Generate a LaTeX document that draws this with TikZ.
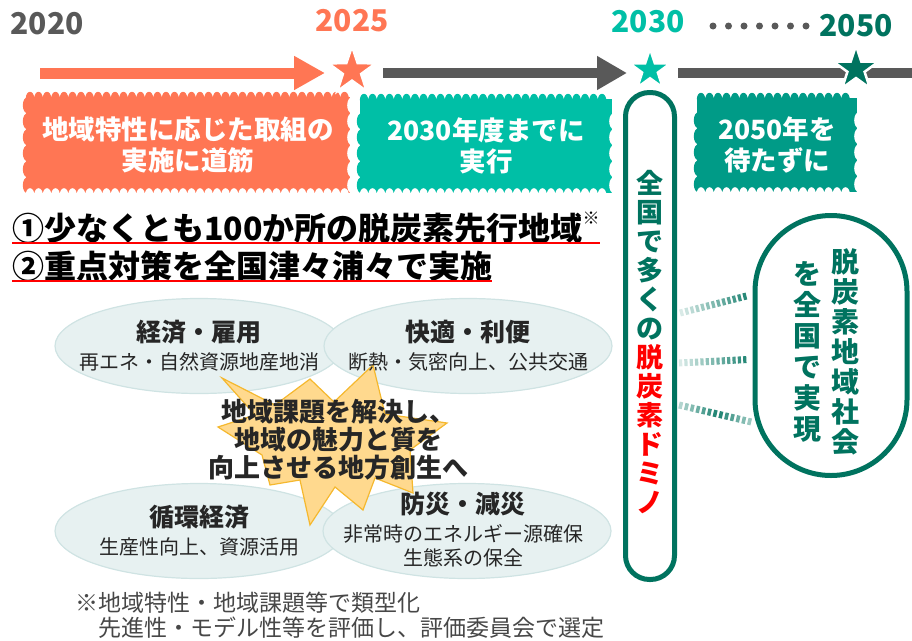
\documentclass[tikz,border=0pt]{standalone}
\usepackage{fontspec}
\setmainfont{Noto Sans CJK JP}
\usepackage{tikz}
\usetikzlibrary{shapes.geometric,arrows.meta,calc,backgrounds,decorations.pathmorphing}
\definecolor{orangeC}{HTML}{FF7654}
\definecolor{tealC}{HTML}{00BFA6}
\definecolor{midteal}{HTML}{009B87}
\definecolor{darkteal}{HTML}{00735F}
\definecolor{grayC}{HTML}{595959}
\definecolor{domred}{HTML}{FF0000}
\definecolor{ellfill}{HTML}{E7F1F1}
\definecolor{elldraw}{HTML}{CFE3E3}
\definecolor{burstfill}{HTML}{FFD98E}
\definecolor{burstdraw}{HTML}{F5B82E}
\definecolor{txtC}{HTML}{262626}
\tikzset{%
    year/.style={font=\fontsize{30}{30}\selectfont\bfseries, inner sep=0pt},
    milestone/.style={star, star points=5, star point ratio=2.6, inner sep=0pt, minimum size=#1, draw=white, line width=2.5pt},
    boxtxt/.style={text=white, align=center, inner sep=0pt, font=\fontsize{26.5}{31}\selectfont\bfseries},
    theme/.style={ellipse, fill=ellfill, draw=elldraw, line width=1.2pt, minimum width=288pt, minimum height=95pt, inner sep=0pt},
    themetxt/.style={align=center, text=txtC, inner sep=0pt, font=\fontsize{20}{24}\selectfont},
    headline/.style={anchor=base west, inner sep=0pt, font=\fontsize{32}{32}\selectfont\bfseries},
    redline/.style={domred, line width=2pt},
    vtext/.style={align=center, inner sep=0pt, text=darkteal},
    scallop/.style={decoration={bumps,segment length=17pt,amplitude=6.5pt}},
    wave/.style={decoration={bumps,segment length=32pt,amplitude=4.5pt}}
}
\newcommand{\thmtitle}[1]{{\fontsize{25}{30}\selectfont\bfseries #1}}
\newcommand{\wavefill}[2]{%
    \begin{pgfonlayer}{background}
    \fill[#2] (#1.north west) rectangle (#1.south east);
    \fill[#2] decorate[scallop] {($(#1.north west)+(0,1.5)$) -- ($(#1.north east)+(0,1.5)$)};
    \fill[#2] decorate[wave] {($(#1.south west)+(1.5,0)$) -- ($(#1.north west)+(1.5,0)$)};
    \fill[white] decorate[scallop] {($(#1.south west)+(0,1.5)$) -- ($(#1.south east)+(0,1.5)$)};
    \fill[white] decorate[wave] {($(#1.south east)+(1.5,0)$) -- ($(#1.north east)+(1.5,0)$)};
    \end{pgfonlayer}}

\begin{document}
\begin{tikzpicture}[x=1pt,y=-1pt]
    \useasboundingbox (0,0) rectangle (912,640);

    % years
    \node[year, text=grayC] (y20) at (47,24) {2020};
    \node[year, text=orangeC] (y25) at (352,21) {2025};
    \node[year, text=tealC] (y30) at (648,22) {2030};
    \node[year, text=darkteal] (y50) at (856,26) {2050};
    \foreach \i in {0,...,6}
        \fill[grayC] (713+15.5*\i,26) circle (3.5);

    % time line
    \coordinate (a20) at (40,73);
    \coordinate (tail) at (912,73);
    \node[milestone=50pt, fill=orangeC] (st25) at (352,71) {};
    \node[milestone=43pt, fill=tealC] (st30) at (650,70) {};
    \draw[orangeC, line width=11pt, -{Triangle[length=31pt,width=32pt]}, shorten >=27pt] (a20) -- (st25.center |- a20);
    \draw[grayC, line width=10pt, -{Triangle[length=30pt,width=32pt]}, shorten <=31pt, shorten >=23pt] (st25.center |- a20) -- (st30.center |- a20);
    \draw[grayC, line width=10pt, shorten <=28pt] (st30.center |- a20) -- (tail);
    \node[milestone=47pt, fill=darkteal] (st50) at (856,69) {};

    % period boxes
    \node[boxtxt, minimum width=324pt, minimum height=96pt] (bx1) at (188,145) {地域特性に応じた取組の\\実施に道筋};
    \wavefill{bx1}{orangeC}
    \node[boxtxt, minimum width=252pt, minimum height=94pt] (bx2) at (486,146) {2030年度までに\\実行};
    \wavefill{bx2}{tealC}
    \node[boxtxt, minimum width=160pt, minimum height=94pt] (bx3) at (777,145) {2050年を\\待たずに};
    \wavefill{bx3}{midteal}

    % headlines
    \node[headline] (h1) at (12,240) {①少なくとも100か所の脱炭素先行地域\raisebox{0.5em}{\fontsize{17}{17}\selectfont ※}};
    \node[headline] (h2) at (12,278) {②重点対策を全国津々浦々で実施};
    \draw[redline] (h1.south west) -- (h1.south east);
    \draw[redline] (h2.south west) -- (h2.south east);

    % themes
    \node[theme] (eco) at (199,346) {};
    \node[theme] (amen) at (468,346) {};
    \node[theme] (circ) at (199,531) {};
    \node[theme] (disa) at (467,531) {};

    % burst
    \filldraw[fill=burstfill, draw=burstdraw, line width=1.2pt] (222,378) -- (275,405) -- (310,379) -- (334,402)
        -- (373,365) -- (385,414) -- (447,423) -- (410,450) -- (413,493) -- (375,478) -- (363,510)
        -- (335,487) -- (310,525) -- (300,480) -- (270,485) -- (262,455) -- (218,427) -- (255,415) -- cycle;

    \node[themetxt] (ecotxt) at (eco) {\thmtitle{経済・雇用}\\[4pt]再エネ・自然資源地産地消};
    \node[themetxt] (amentxt) at (amen) {\thmtitle{快適・利便}\\[4pt]断熱・気密向上、公共交通};
    \node[themetxt] (circtxt) at (circ) {\thmtitle{循環経済}\\[4pt]生産性向上、資源活用};
    \node[themetxt] (disatxt) at ($(disa)+(-4,-1)$) {\thmtitle{防災・減災}\\[4pt]非常時のエネルギー源確保\\生態系の保全};
    \node[align=center, text=txtC, inner sep=0pt, font=\fontsize{26}{28}\selectfont\bfseries] (goal) at (338,440)
        {地域課題を解決し、\\地域の魅力と質を\\向上させる地方創生へ};

    % domino
    \node[draw=darkteal, line width=5pt, rounded corners=24pt, fill=white, minimum width=49pt, minimum height=487pt, inner sep=0pt] (dom) at (650,336) {};
    \node[vtext, font=\fontsize{27}{29}\selectfont\bfseries] (domtxt) at (650,342)
        {全\\国\\で\\多\\く\\の\\{\color{domred}脱}\\{\color{domred}炭}\\{\color{domred}素}\\{\color{domred}ド}\\{\color{domred}ミ}\\{\color{domred}ノ}};

    % goal society
    \node[draw=darkteal, line width=5pt, rounded corners=76pt, fill=white, minimum width=152pt, minimum height=260pt, inner sep=0pt] (soc) at (831,345.5) {};
    \node[vtext, font=\fontsize{28}{30}\selectfont\bfseries] (soc1) at (845,352) {脱\\炭\\素\\地\\域\\社\\会};
    \node[vtext, font=\fontsize{28}{31}\selectfont\bfseries] (soc2) at (807,352) {を\\全\\国\\で\\実\\現};

    % links
    \coordinate (c1a) at ($(dom.east)+(3,-23)$);
    \coordinate (c1b) at ($(soc.west)+(-4,-50)$);
    \coordinate (c2a) at ($(dom.east)+(2,27)$);
    \coordinate (c2b) at ($(soc.west)+(-4,14)$);
    \coordinate (c3a) at ($(dom.east)+(2,69)$);
    \coordinate (c3b) at ($(soc.west)+(1,77)$);
    \foreach \a/\b/\m in {c1a/c1b/0, c2a/c2b/0, c3a/c3b/1}{
        \foreach \i in {0,...,12}{
            \pgfmathsetmacro{\ta}{\i/13}
            \pgfmathsetmacro{\tb}{(\i+0.6)/13}
            \pgfmathsetmacro{\pc}{(1-\m)*(15+75*\ta)+\m*(90-120*abs(\ta-0.5))}
            \draw[line width=7pt, darkteal!\pc!white] ($(\a)!\ta!(\b)$) -- ($(\a)!\tb!(\b)$);
        }
    }

    % note
    \node[anchor=north west, align=left, inner sep=0pt, text=grayC!80!black, font=\fontsize{23}{25}\selectfont] (note) at (75,592)
        {※地域特性・地域課題等で類型化\\\hspace*{1em}先進性・モデル性等を評価し、評価委員会で選定};
\end{tikzpicture}
\end{document}
